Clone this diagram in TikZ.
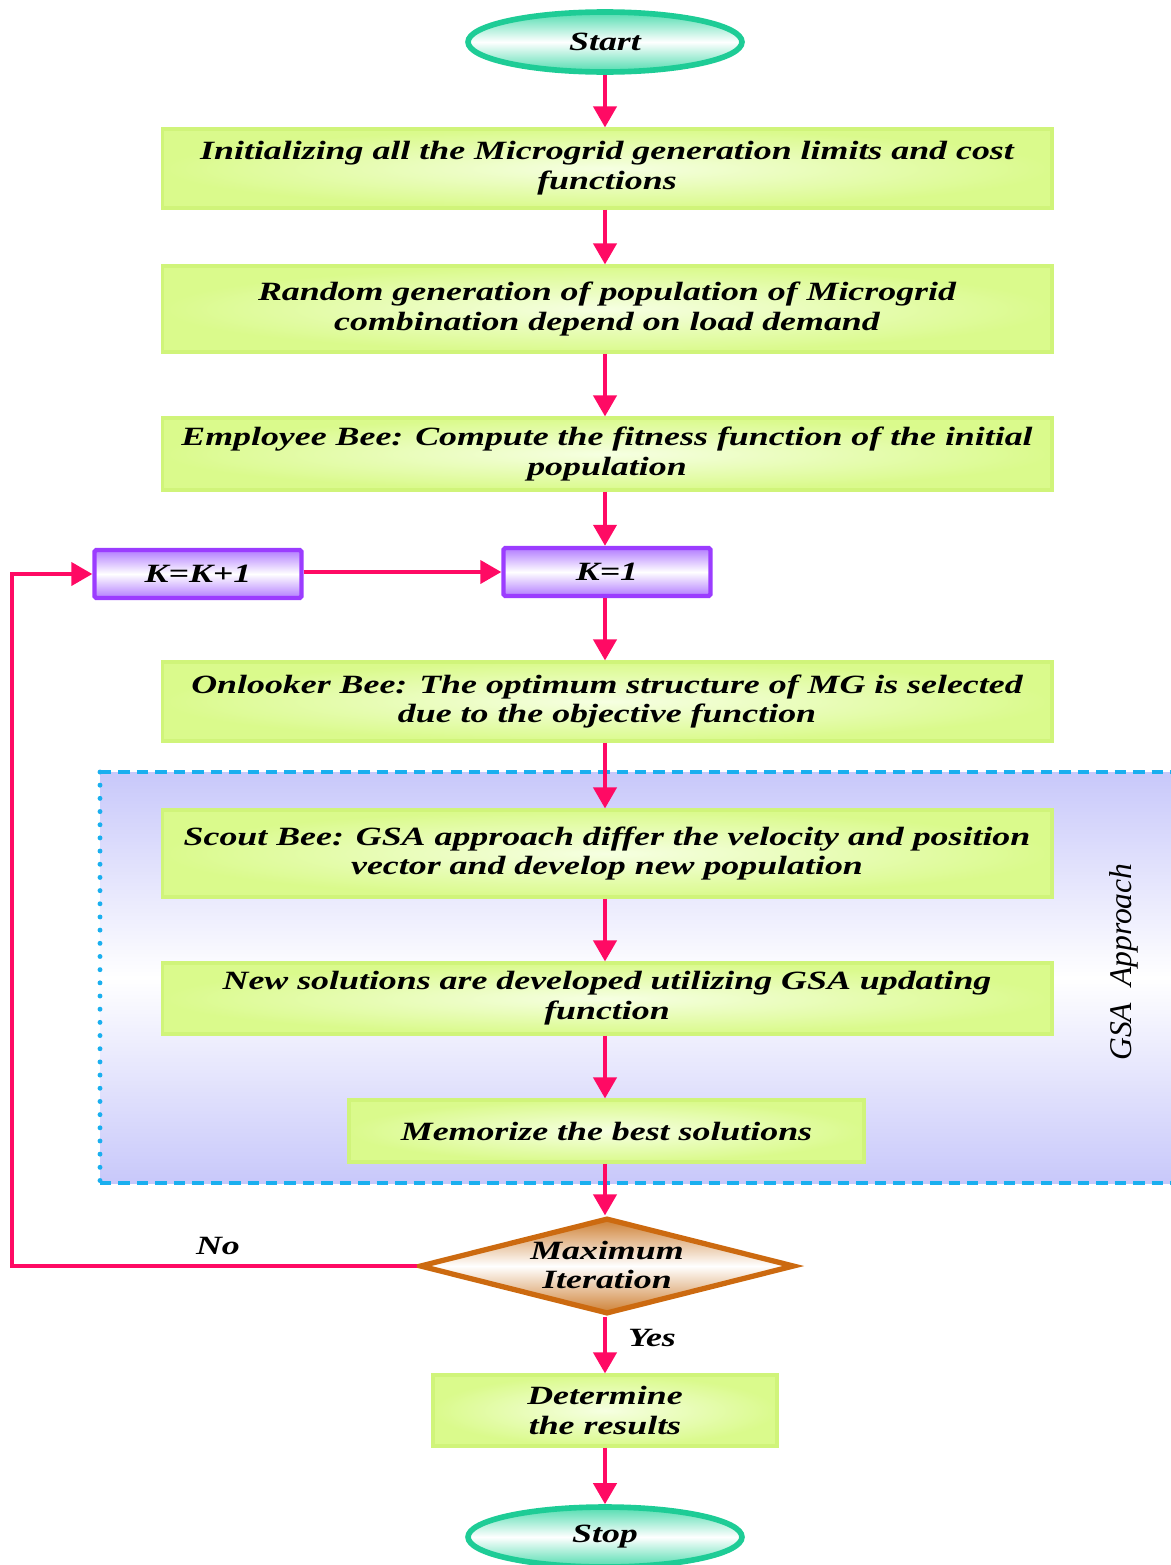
\documentclass[tikz,border=0pt]{standalone}
\usepackage{fontspec}
\setmainfont{Liberation Serif}
\newfontfamily\flowfont[FakeStretch=1.36]{Liberation Serif}
\usetikzlibrary{arrows.meta,shapes.geometric}

\definecolor{flowpink}{RGB}{255,10,100}
\definecolor{boxedge}{RGB}{208,244,122}
\definecolor{boxfill}{RGB}{218,250,140}
\definecolor{boxglow}{RGB}{246,255,226}
\definecolor{termedge}{RGB}{30,204,150}
\definecolor{termfill}{RGB}{80,220,175}
\definecolor{counteredge}{RGB}{155,60,255}
\definecolor{counterfill}{RGB}{178,124,255}
\definecolor{decedge}{RGB}{204,106,16}
\definecolor{decfill}{RGB}{206,128,52}
\definecolor{regionedge}{RGB}{26,175,239}
\definecolor{regionfill}{RGB}{200,200,250}

\tikzset{
  flowtext/.style={font=\flowfont\bfseries\itshape\fontsize{15}{17}\selectfont},
  procbox/.style={rectangle, draw=boxedge, line width=1.8pt,
    inner color=boxglow, outer color=boxfill, align=center, flowtext},
  terminal/.style={ellipse, draw=termedge, line width=3.2pt,
    top color=termfill, bottom color=termfill, middle color=white,
    minimum width=5.48cm, minimum height=1.2cm, flowtext},
  counter/.style={rectangle, draw=counteredge, line width=2.5pt, rounded corners=1pt,
    top color=counterfill, bottom color=counterfill, middle color=white,
    minimum width=4.14cm, minimum height=0.96cm, flowtext},
  decision/.style={diamond, draw=decedge, line width=3pt, inner sep=0pt,
    top color=decfill, bottom color=decfill, middle color=white,
    minimum width=7.5cm, minimum height=1.92cm},
  flow/.style={draw=flowpink, line width=2.3pt,
    -{Triangle[width=0.46cm,length=0.42cm]}}
}

\begin{document}
\begin{tikzpicture}[x=0.02cm,y=-0.02cm]
\useasboundingbox (0,0) rectangle (1170,1565);

% shaded region of the GSA stage
\shade[top color=regionfill, bottom color=regionfill, middle color=white]
  (100,772) rectangle (1175,1183);
\draw[regionedge, line width=2.5pt, dash pattern=on 6.5pt off 4pt]
  (100,772) -- (1175,772) (100,1183) -- (1175,1183);
\draw[regionedge, line width=2.8pt, line cap=round, dash pattern=on 0pt off 7.5pt]
  (100,772) -- (100,1183);
\node[rotate=90, font=\itshape\fontsize{18}{22}\selectfont] (gsalabel) at (1124,962) {GSA\ \ Approach};

% process steps
\node[terminal] (start) at (605,42) {Start};
\node[procbox, minimum width=17.8cm, minimum height=1.58cm] (init) at (607,168.5)
  {Initializing all the Microgrid generation limits and cost\\functions};
\node[procbox, minimum width=17.8cm, minimum height=1.72cm] (popgen) at (607,309)
  {Random generation of population of Microgrid\\combination depend on load demand};
\node[procbox, minimum width=17.8cm, minimum height=1.44cm] (employee) at (607,454)
  {Employee Bee: Compute the fitness function of the initial\\population};
\node[counter] (kinc) at (198,574) {K=K+1};
\node[counter] (kone) at (607,572) {K=1};
\node[procbox, minimum width=17.8cm, minimum height=1.58cm] (onlooker) at (607,701.5)
  {Onlooker Bee: The optimum structure of MG is selected\\due to the objective function};
\node[procbox, minimum width=17.8cm, minimum height=1.74cm] (scout) at (607,853.5)
  {Scout Bee: GSA approach differ the velocity and position\\vector and develop new population};
\node[procbox, minimum width=17.8cm, minimum height=1.42cm] (newsol) at (607,998.5)
  {New solutions are developed utilizing GSA updating\\function};
\node[procbox, minimum width=10.3cm, minimum height=1.24cm] (memo) at (606.5,1131)
  {Memorize the best solutions};
\node[decision] (maxit) at (607,1266) {};
\node[flowtext, align=center] (maxittext) at (607,1265) {Maximum\\Iteration};
\node[procbox, minimum width=6.88cm, minimum height=1.42cm] (result) at (605,1410.5)
  {Determine\\the results};
\node[terminal] (stop) at (605,1537) {Stop};

% connectors
\draw[flow] (start.south) -- (start.south |- init.north);
\draw[flow] (init.south -| start.south) -- (start.south |- popgen.north);
\draw[flow] (popgen.south -| start.south) -- (start.south |- employee.north);
\draw[flow] (employee.south -| start.south) -- (start.south |- kone.north);
\draw[flow] (kinc.east |- kone.west) -- (kone.west);
\draw[flow] (kone.south -| start.south) -- (start.south |- onlooker.north);
\draw[flow] (onlooker.south -| start.south) -- (start.south |- scout.north);
\draw[flow] (scout.south -| start.south) -- (start.south |- newsol.north);
\draw[flow] (newsol.south -| start.south) -- (start.south |- memo.north);
\draw[flow] (memo.south -| start.south) -- (start.south |- maxit.north);
\draw[flow] (maxit.south -| start.south) -- (start.south |- result.north);
\draw[flow] (result.south) -- (stop.north);
\coordinate (loopcorner) at (12,1266);
\draw[flow] (maxit.west) -- (loopcorner) |- (kinc.west);

% branch labels
\node[flowtext] (nolabel) at (218,1246) {No};
\node[flowtext] (yeslabel) at (652,1338) {Yes};
\end{tikzpicture}
\end{document}
